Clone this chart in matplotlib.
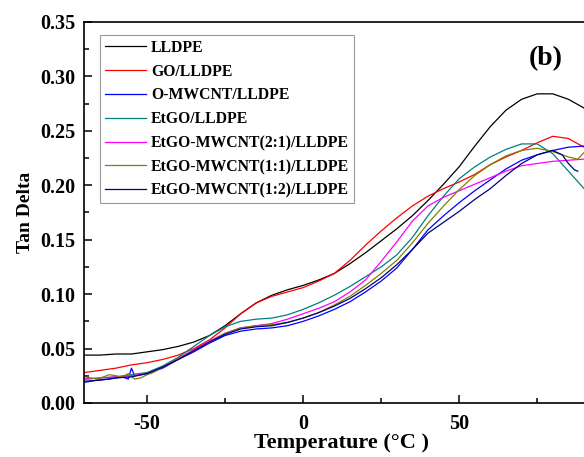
import matplotlib
matplotlib.use('Agg')
from matplotlib import pyplot as plt
from matplotlib.ticker import MultipleLocator, FormatStrFormatter

plt.rcParams['font.family'] = 'serif'
plt.rcParams['font.serif'] = ['Liberation Serif', 'DejaVu Serif']
plt.rcParams['font.weight'] = 'bold'
plt.rcParams['axes.unicode_minus'] = False

# Tan delta vs temperature
t_lldpe = [-70, -65, -60, -55, -50, -45, -40, -35, -30, -25, -20, -15, -10, -5, 0, 5, 10, 15,
           20, 25, 30, 35, 40, 45, 50, 55, 60, 65, 70, 75, 80, 85, 90]
lldpe = [0.044, 0.044, 0.045, 0.045, 0.047, 0.049, 0.052, 0.056, 0.062, 0.071, 0.082, 0.092,
         0.099, 0.104, 0.108, 0.113, 0.119, 0.128, 0.138, 0.149, 0.160, 0.172, 0.186, 0.201,
         0.217, 0.236, 0.254, 0.269, 0.279, 0.284, 0.284, 0.279, 0.271]

t_go = t_lldpe
go = [0.028, 0.030, 0.032, 0.035, 0.037, 0.040, 0.044, 0.050, 0.058, 0.069, 0.082, 0.092,
      0.098, 0.102, 0.106, 0.112, 0.119, 0.131, 0.145, 0.158, 0.170, 0.181, 0.190, 0.197,
      0.203, 0.210, 0.219, 0.226, 0.232, 0.239, 0.245, 0.243, 0.235]

t_omw = [-70, -66, -62, -58, -56, -55, -54, -52, -50, -45, -40, -35, -30, -25, -20, -15, -10,
         -5, 0, 5, 10, 15, 20, 25, 30, 35, 40, 45, 50, 55, 60, 65, 70, 75, 80, 85, 90]
omw = [0.019, 0.021, 0.022, 0.024, 0.022, 0.032, 0.025, 0.026, 0.027, 0.032, 0.040, 0.047,
       0.055, 0.062, 0.066, 0.068, 0.069, 0.071, 0.075, 0.080, 0.086, 0.093, 0.102, 0.112,
       0.124, 0.141, 0.159, 0.172, 0.184, 0.195, 0.205, 0.215, 0.223, 0.228, 0.232, 0.235, 0.236]

t_etgo = t_lldpe
etgo = [0.022, 0.023, 0.024, 0.026, 0.028, 0.034, 0.042, 0.052, 0.062, 0.070, 0.075, 0.077,
        0.078, 0.081, 0.086, 0.092, 0.099, 0.107, 0.116, 0.125, 0.136, 0.152, 0.172, 0.190,
        0.206, 0.217, 0.226, 0.233, 0.238, 0.238, 0.229, 0.213, 0.197]

t_21 = t_lldpe
mw21 = [0.022, 0.023, 0.024, 0.025, 0.027, 0.033, 0.041, 0.049, 0.057, 0.064, 0.069, 0.071,
        0.073, 0.077, 0.082, 0.087, 0.093, 0.102, 0.113, 0.130, 0.148, 0.167, 0.181, 0.189,
        0.195, 0.201, 0.207, 0.213, 0.218, 0.220, 0.222, 0.223, 0.224]

t_11 = [-70, -66, -62, -58, -56, -54, -52, -50, -48, -45, -40, -35, -30, -25, -20, -15, -10,
        -5, 0, 5, 10, 15, 20, 25, 30, 35, 40, 45, 50, 55, 60, 65, 70, 75, 80, 85, 88, 90]
mw11 = [0.024, 0.022, 0.026, 0.024, 0.027, 0.022, 0.023, 0.026, 0.028, 0.033, 0.041, 0.048,
        0.056, 0.064, 0.069, 0.071, 0.072, 0.074, 0.078, 0.083, 0.090, 0.098, 0.108, 0.119,
        0.131, 0.147, 0.165, 0.181, 0.196, 0.209, 0.219, 0.227, 0.232, 0.234, 0.231, 0.226,
        0.224, 0.230]

t_12 = [-70, -65, -60, -55, -50, -45, -40, -35, -30, -25, -20, -15, -10, -5, 0, 5, 10, 15,
        20, 25, 30, 35, 40, 45, 50, 55, 60, 65, 70, 75, 80, 83, 85, 87, 88]
mw12 = [0.020, 0.021, 0.023, 0.024, 0.027, 0.033, 0.040, 0.048, 0.056, 0.063, 0.068, 0.070,
        0.071, 0.074, 0.078, 0.083, 0.089, 0.096, 0.105, 0.115, 0.127, 0.141, 0.156, 0.166,
        0.176, 0.187, 0.197, 0.209, 0.220, 0.228, 0.232, 0.228, 0.220, 0.214, 0.213]

series = [
    ('LLDPE', t_lldpe, lldpe, 'black'),
    ('GO/LLDPE', t_go, go, 'red'),
    ('O-MWCNT/LLDPE', t_omw, omw, 'blue'),
    ('EtGO/LLDPE', t_etgo, etgo, '#008080'),
    ('EtGO-MWCNT(2:1)/LLDPE', t_21, mw21, 'magenta'),
    ('EtGO-MWCNT(1:1)/LLDPE', t_11, mw11, '#808000'),
    ('EtGO-MWCNT(1:2)/LLDPE', t_12, mw12, '#000080'),
]

fig = plt.figure(figsize=(5.84, 4.57), dpi=100)
ax = fig.add_axes([84/584, 54/457, 500/584, 381/457])
for name, t, v, c in series:
    ax.plot(t, v, color=c, lw=0.9, label=name)

ax.set_xlim(-70.2, 90)
ax.set_ylim(0, 0.35)
ax.xaxis.set_major_locator(MultipleLocator(50))
ax.xaxis.set_minor_locator(MultipleLocator(25))
ax.yaxis.set_major_locator(MultipleLocator(0.05))
ax.yaxis.set_minor_locator(MultipleLocator(0.025))
ax.yaxis.set_major_formatter(FormatStrFormatter('%.2f'))
ax.tick_params(which='both', direction='in', labelsize=14.5, width=1.1)
ax.tick_params(which='major', length=6)
ax.tick_params(which='minor', length=3.5)
ax.tick_params(axis='y', pad=6)
ax.tick_params(axis='x', pad=8)
ax.tick_params(top=False, right=False, which='both')
ax.spines['right'].set_visible(False)
for s in ['left', 'bottom', 'top']:
    ax.spines[s].set_linewidth(1.2)

ax.set_xlabel('Temperature (°C )', fontsize=16, fontweight='bold')
ax.set_ylabel('Tan Delta', fontsize=14, fontweight='bold')
ax.xaxis.set_label_coords(0.514, -0.104)
ax.yaxis.set_label_coords(-0.116, 0.50)
ax.xaxis.label.set_va('center')
ax.yaxis.label.set_va('center')

ax.text(0.923, 0.905, '(b)', transform=ax.transAxes, fontsize=20, fontweight='bold',
        ha='center', va='center')

leg = ax.legend(loc='upper left', bbox_to_anchor=(0.032, 0.966), fontsize=11.3,
                frameon=True, fancybox=False, edgecolor='#808080', handlelength=2.6,
                handletextpad=0.35, labelspacing=0.5, borderpad=0.3, borderaxespad=0)
leg.get_frame().set_linewidth(0.8)

fig.savefig('out.png', dpi=100)
